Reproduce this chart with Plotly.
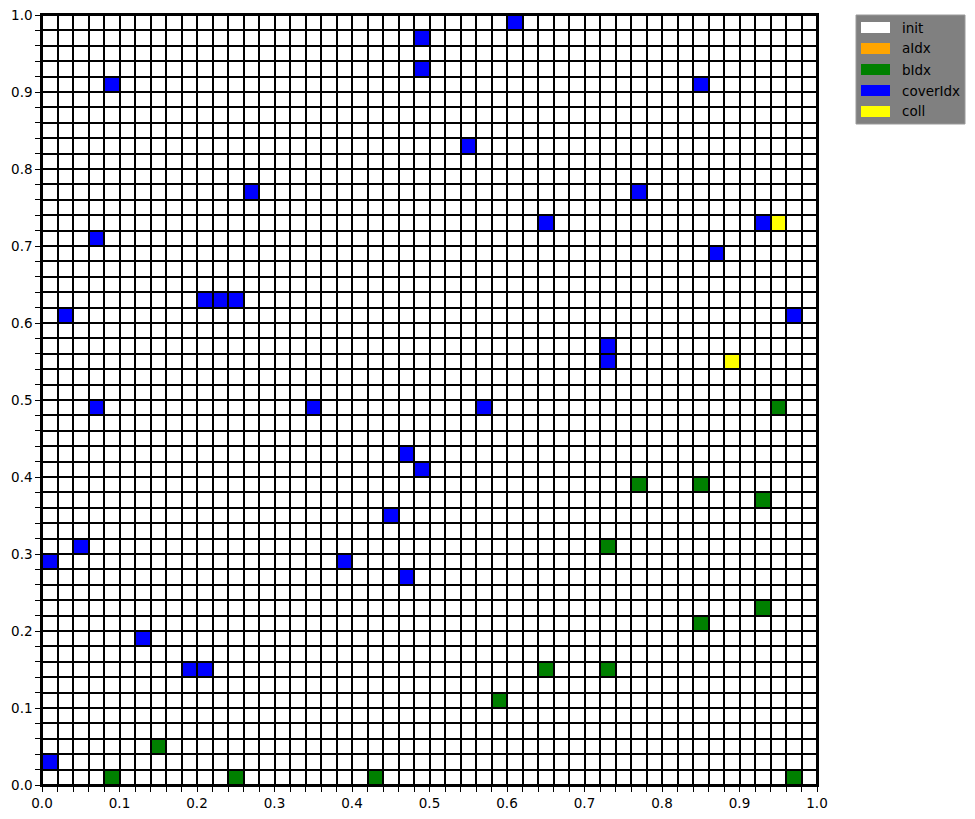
import plotly.graph_objects as go

# ---------------- data ----------------
categories = ["init", "aIdx", "bIdx", "coverIdx", "coll"]
cat_colors = ["#ffffff", "#ffa500", "#008000", "#0000ff", "#ffff00"]

n_cells = 50
cell = 0.02

# cell centres per category (all other cells are "init")
aIdx_x = []
aIdx_y = []

bIdx_x = [0.95, 0.77, 0.85, 0.93, 0.73, 0.93, 0.85, 0.65, 0.73, 0.59, 0.15, 0.09, 0.25, 0.43, 0.97]
bIdx_y = [0.49, 0.39, 0.39, 0.37, 0.31, 0.23, 0.21, 0.15, 0.15, 0.11, 0.05, 0.01, 0.01, 0.01, 0.01]

cover_x = [0.61, 0.49, 0.49, 0.09, 0.85, 0.55, 0.27, 0.77, 0.65, 0.93, 0.07, 0.87,
           0.21, 0.23, 0.25, 0.03, 0.97, 0.73, 0.73, 0.07, 0.35, 0.57, 0.47, 0.49,
           0.45, 0.05, 0.01, 0.39, 0.47, 0.13, 0.19, 0.21, 0.01]
cover_y = [0.99, 0.97, 0.93, 0.91, 0.91, 0.83, 0.77, 0.77, 0.73, 0.73, 0.71, 0.69,
           0.63, 0.63, 0.63, 0.61, 0.61, 0.57, 0.55, 0.49, 0.49, 0.49, 0.43, 0.41,
           0.35, 0.31, 0.29, 0.29, 0.27, 0.19, 0.15, 0.15, 0.03]

coll_x = [0.95, 0.89]
coll_y = [0.73, 0.55]

# ---------------- build grid ----------------
centres = [cell / 2 + cell * i for i in range(n_cells)]
z = [[0] * n_cells for _ in range(n_cells)]
for code, (xs, ys) in enumerate([(aIdx_x, aIdx_y), (bIdx_x, bIdx_y),
                                 (cover_x, cover_y), (coll_x, coll_y)], start=1):
    for xv, yv in zip(xs, ys):
        c = int(round((xv - cell / 2) / cell))
        r = int(round((yv - cell / 2) / cell))
        z[r][c] = code

ncat = len(categories)
colorscale = []
for k, col in enumerate(cat_colors):
    lo = max(0.0, (k - 0.5) / (ncat - 1))
    hi = min(1.0, (k + 0.5) / (ncat - 1))
    colorscale.append([lo, col])
    colorscale.append([hi, col])

fig = go.Figure()
fig.add_trace(go.Heatmap(
    x=centres, y=centres, z=z,
    zmin=0, zmax=ncat - 1,
    colorscale=colorscale, showscale=False,
    xgap=2, ygap=2, hoverinfo="skip",
))

# ---------------- layout ----------------
W, H = 975, 819
ml, mr, mt, mb = 42, 158, 15, 34
pw, ph = W - ml - mr, H - mt - mb

def px_x(p):
    return (p - ml) / pw

def px_y(p):
    return (H - mb - p) / ph

font = dict(family="DejaVu Sans", size=13.5, color="black")

axis_common = dict(
    range=[0, 1], tick0=0, dtick=0.1, tickformat=".1f",
    ticks="outside", ticklen=5, tickwidth=1, tickcolor="black",
    showgrid=False, zeroline=False, automargin=False,
    showline=True, linecolor="black", linewidth=1.5, mirror=True,
    minor=dict(tick0=0, dtick=0.02, ticks="outside", ticklen=5,
               tickcolor="black", tickwidth=1, showgrid=False),
    tickfont=font, fixedrange=True,
)

fig.update_layout(
    width=W, height=H, autosize=False,
    margin=dict(l=ml, r=mr, t=mt, b=mb, pad=0, autoexpand=False),
    paper_bgcolor="white", plot_bgcolor="black",
    xaxis=dict(**axis_common),
    yaxis=dict(**axis_common),
    showlegend=False,
    font=font,
)

# ---------------- legend (drawn) ----------------
shapes = [dict(type="rect", xref="paper", yref="paper",
               x0=px_x(856), x1=px_x(965), y0=px_y(124), y1=px_y(15),
               fillcolor="#808080", line=dict(color="#9a9a9a", width=1), layer="above")]
annotations = []
for i, (lab, col) in enumerate(zip(categories, cat_colors)):
    yc = 27.5 + 21 * i
    shapes.append(dict(type="rect", xref="paper", yref="paper",
                       x0=px_x(861), x1=px_x(890), y0=px_y(yc + 5.5), y1=px_y(yc - 5.5),
                       fillcolor=col, line=dict(width=0), layer="above"))
    annotations.append(dict(xref="paper", yref="paper", x=px_x(900), y=px_y(yc),
                            text=lab, showarrow=False, xanchor="left", yanchor="middle",
                            font=dict(family="DejaVu Sans", size=13.5, color="black")))
fig.update_layout(shapes=shapes, annotations=annotations)

fig.write_html("out.html")
